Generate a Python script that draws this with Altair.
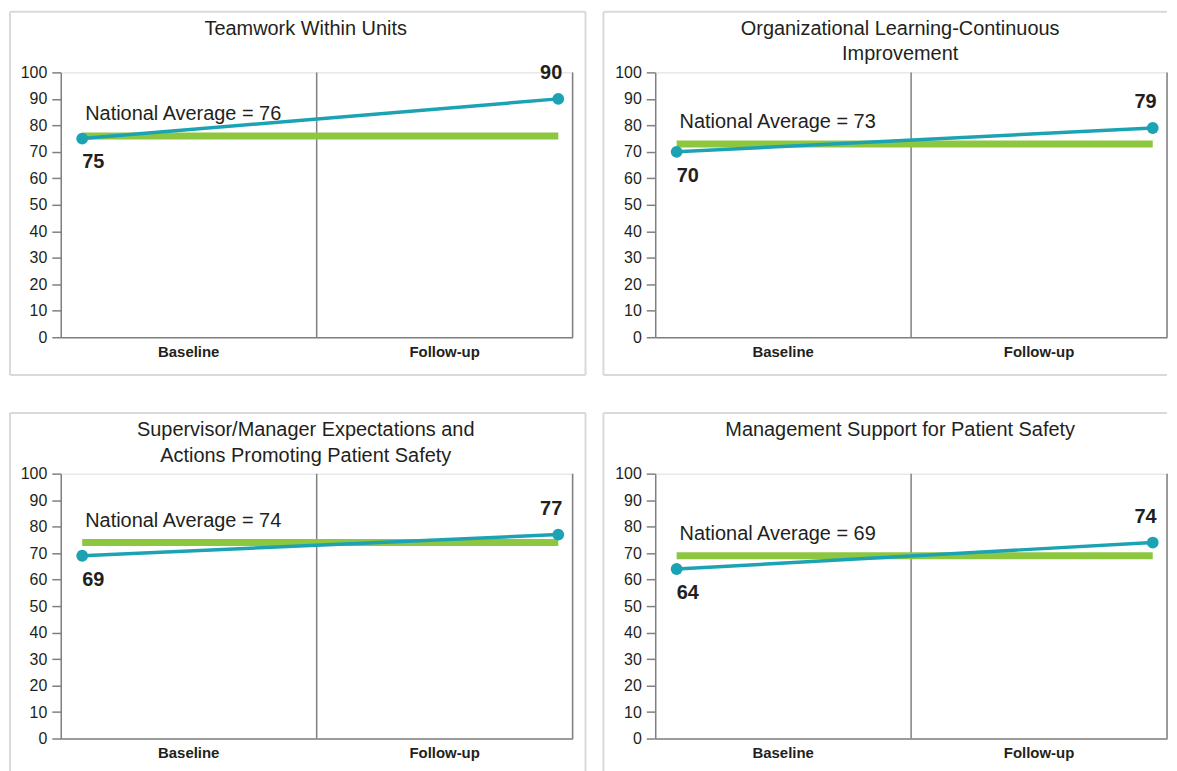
import altair as alt
import pandas as pd

# ---------------- data ----------------
titles = [
    ["Teamwork Within Units"],
    ["Organizational Learning-Continuous", "Improvement"],
    ["Supervisor/Manager Expectations and", "Actions Promoting Patient Safety"],
    ["Management Support for Patient Safety"],
]
periods = ["Baseline", "Follow-up"]
baseline_scores = [75, 70, 69, 64]
followup_scores = [90, 79, 77, 74]
national_avg = [76, 73, 74, 69]
y_ticks = [0, 10, 20, 30, 40, 50, 60, 70, 80, 90, 100]

# ---------------- style ----------------
TEAL = "#1ba3b4"
GREEN = "#8dc63f"
AXIS_GRAY = "#808080"
BORDER = "#d9d9d9"
TEXT = "#231f20"
FONT = "Liberation Sans"
W, H = 514, 266


def border_rule(**enc):
    return (
        alt.Chart(alt.Data(values=[{}]))
        .mark_rule(color=BORDER, strokeWidth=2)
        .encode(**{k: alt.value(v) for k, v in enc.items()})
    )


def panel(i, col):
    df = pd.DataFrame(
        {
            "period": periods,
            "idx": list(range(len(periods))),
            "score": [baseline_scores[i], followup_scores[i]],
            "nat": [national_avg[i]] * len(periods),
        }
    )
    base = alt.Chart(df)

    yscale = alt.Scale(domain=[0, 100], nice=False, zero=True)
    yaxis = alt.Axis(
        title=None, values=y_ticks, grid=False, tickSize=9, tickWidth=1.5,
        tickColor=AXIS_GRAY, domainColor=AXIS_GRAY, domainWidth=1.5,
        labelFontSize=16, labelColor=TEXT, labelFont=FONT, labelPadding=5,
    )
    xq = alt.X("idx:Q", scale=alt.Scale(domain=[-0.045, 1.03], nice=False, zero=False), axis=None)

    divider = base.mark_rule(color=AXIS_GRAY, strokeWidth=1.5).encode(
        x=alt.X(
            "period:N",
            sort=periods,
            bandPosition=1,
            scale=alt.Scale(type="band", domain=periods, paddingInner=0, paddingOuter=0),
            axis=alt.Axis(
                title=None, ticks=False, grid=False, labelAngle=0,
                labelFontSize=15, labelFontWeight="bold", labelColor=TEXT,
                labelFont=FONT, labelPadding=7,
                domainColor=AXIS_GRAY, domainWidth=1.5,
            ),
        )
    )

    nat_line = base.mark_line(color=GREEN, strokeWidth=7, strokeCap="butt").encode(
        x=xq, y=alt.Y("nat:Q", scale=yscale, axis=yaxis)
    )
    nat_text = (
        base.transform_filter(alt.datum.period == periods[0])
        .transform_calculate(lab="'National Average = ' + datum.nat")
        .mark_text(align="left", baseline="middle", dx=3, dy=-22, fontSize=20, font=FONT, color=TEXT)
        .encode(x=xq, y=alt.Y("nat:Q", scale=yscale, axis=yaxis), text="lab:N")
    )
    teal_line = base.mark_line(color=TEAL, strokeWidth=3.5).encode(
        x=xq, y=alt.Y("score:Q", scale=yscale, axis=yaxis)
    )
    pts = base.mark_circle(size=140, color=TEAL, opacity=1).encode(
        x=xq, y=alt.Y("score:Q", scale=yscale, axis=yaxis)
    )
    lab_base = (
        base.transform_filter(alt.datum.period == periods[0])
        .mark_text(align="left", baseline="middle", dx=0, dy=24, fontSize=20,
                   fontWeight="bold", font=FONT, color=TEXT)
        .encode(x=xq, y=alt.Y("score:Q", scale=yscale, axis=yaxis), text="score:Q")
    )
    lab_follow = (
        base.transform_filter(alt.datum.period == periods[1])
        .mark_text(align="right", baseline="middle", dx=4, dy=-26, fontSize=20,
                   fontWeight="bold", font=FONT, color=TEXT)
        .encode(x=xq, y=alt.Y("score:Q", scale=yscale, axis=yaxis), text="score:Q")
    )

    if col == 0:
        left, right = -51, W + 13
    else:
        left, right = -52, W
    top, bottom = -61, H + 38
    borders = [
        border_rule(x=left, x2=right, y=top),
        border_rule(x=left, x2=right, y=bottom),
        border_rule(x=left, y=top, y2=bottom),
    ]
    if col == 0:
        borders.append(border_rule(x=right, y=top, y2=bottom))

    n_lines = len(titles[i])
    return (
        alt.layer(*borders, divider, nat_line, nat_text, teal_line, pts, lab_base, lab_follow)
        .resolve_scale(x="independent")
        .properties(
            width=W,
            height=H,
            title=alt.TitleParams(
                text=titles[i], fontSize=20, font=FONT, color=TEXT, fontWeight="normal",
                anchor="middle", frame="group",
                offset=-28 if n_lines == 1 else -54, dx=-11, lineHeight=26,
            ),
        )
    )


chart = (
    alt.vconcat(
        alt.hconcat(panel(0, 0), panel(1, 1), spacing=14),
        alt.hconcat(panel(2, 0), panel(3, 1), spacing=14),
        spacing=34,
    )
    .properties(padding={"left": 0, "top": 0, "right": 0, "bottom": 0})
    .configure_view(stroke=None)
    .configure(font=FONT)
)

chart.save("out.html", embed_options={"renderer": "svg", "actions": False})
